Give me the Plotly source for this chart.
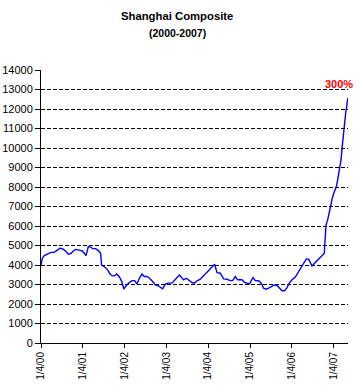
import pandas as pd
import plotly.graph_objects as go

# Time of each reading, in years after 4 Jan 2000
years_elapsed = [
    0.000, 0.031, 0.079, 0.158, 0.239, 0.318, 0.373, 0.455, 0.510, 0.574,
    0.653, 0.718, 0.773, 0.828, 0.909, 0.988, 1.036, 1.077, 1.132, 1.187,
    1.234, 1.306, 1.371, 1.426, 1.450, 1.514, 1.593, 1.651, 1.706, 1.754,
    1.809, 1.873, 1.933, 1.981, 2.024, 2.096, 2.177, 2.239, 2.297, 2.352,
    2.416, 2.471, 2.536, 2.598, 2.670, 2.734, 2.789, 2.854, 2.909, 2.974,
    3.038, 3.134, 3.196, 3.254, 3.316, 3.373, 3.411, 3.476, 3.531, 3.612,
    3.667, 3.732, 3.811, 3.890, 3.971, 4.033, 4.091, 4.153, 4.211, 4.289,
    4.368, 4.450, 4.529, 4.584, 4.648, 4.703, 4.809, 4.871, 4.928, 4.990,
    5.072, 5.127, 5.206, 5.270, 5.325, 5.383, 5.445, 5.510, 5.581, 5.646,
    5.701, 5.766, 5.828, 5.885, 5.940, 6.005, 6.084, 6.163, 6.244, 6.299,
    6.347, 6.402, 6.443, 6.483, 6.545, 6.603, 6.682, 6.746, 6.778, 6.785,
    6.801, 6.818, 6.856, 6.897, 6.938, 6.976, 7.024, 7.065, 7.096, 7.120,
    7.144, 7.177, 7.201, 7.225, 7.256, 7.287, 7.321, 7.344,
]

index_values = [
    3970, 4350, 4480, 4550, 4650, 4650, 4740, 4860, 4840, 4740,
    4550, 4600, 4720, 4800, 4760, 4720, 4600, 4480, 4940, 4920,
    4840, 4840, 4740, 4600, 4000, 3920, 3750, 3540, 3440, 3440,
    3540, 3400, 3150, 2770, 2900, 3070, 3200, 3200, 3020, 3320,
    3530, 3410, 3410, 3320, 3150, 2980, 2950, 2860, 2780, 3020,
    3070, 3070, 3240, 3360, 3490, 3320, 3240, 3320, 3240, 3100,
    3070, 3190, 3270, 3440, 3630, 3780, 3920, 4040, 3610, 3580,
    3290, 3270, 3200, 3200, 3410, 3240, 3240, 3100, 3070, 3030,
    3360, 3200, 3190, 3070, 2810, 2760, 2810, 2900, 2980, 2950,
    2840, 2680, 2680, 2840, 3070, 3240, 3380, 3660, 4000, 4210,
    4310, 4300, 4090, 3950, 4090, 4210, 4400, 4550, 4600, 4940,
    5450, 6050, 6300, 6730, 7160, 7500, 7800, 8010, 8350, 8650,
    8950, 9400, 9970, 10570, 11080, 11760, 12280, 12580,
]

tick_dates = ["2000-01-04", "2001-01-04", "2002-01-04", "2003-01-04",
              "2004-01-04", "2005-01-04", "2006-01-04", "2007-01-04"]
tick_labels = ["1/4/00", "1/4/01", "1/4/02", "1/4/03",
               "1/4/04", "1/4/05", "1/4/06", "1/4/07"]

y_ticks = list(range(0, 14001, 1000))
y_tick_labels = [str(v) for v in y_ticks]

title_line1 = "Shanghai Composite"
title_line2 = "(2000-2007)"
gain_label = "300%"
gain_label_level = 13270

start = pd.Timestamp("2000-01-04")
dates = [start + pd.to_timedelta(t * 365.25, unit="D") for t in years_elapsed]

FONT = "Liberation Sans, Arial, sans-serif"

fig = go.Figure()
fig.add_trace(go.Scatter(
    x=dates, y=index_values, mode="lines",
    line=dict(color="#0000FF", width=1.4),
    hoverinfo="skip", showlegend=False,
))

fig.update_layout(
    width=360, height=388,
    margin=dict(l=41, r=12, t=70, b=45, autoexpand=False),
    paper_bgcolor="white", plot_bgcolor="white",
    font=dict(family=FONT, color="black", size=11),
    showlegend=False,
    xaxis=dict(
        type="date",
        range=[dates[0], dates[-1]],
        tickvals=tick_dates, ticktext=tick_labels,
        tickangle=-90,
        tickfont=dict(family=FONT, size=10, color="black"),
        ticks="outside", ticklen=4, tickcolor="black", tickwidth=1,
        showline=True, linecolor="black", linewidth=1,
        showgrid=False, zeroline=False, automargin=False,
    ),
    yaxis=dict(
        range=[0, 14000],
        tickvals=y_ticks, ticktext=y_tick_labels,
        tickfont=dict(family=FONT, size=11, color="black"),
        ticks="outside", ticklen=5, tickcolor="black", tickwidth=1,
        showline=True, linecolor="black", linewidth=1,
        showgrid=True, gridcolor="black", gridwidth=1, griddash="4px,2px",
        zeroline=False, automargin=False,
    ),
    annotations=[
        dict(text="<b>" + title_line1 + "</b>", xref="paper", yref="paper",
             x=0.443, y=1.198, xanchor="center", yanchor="middle",
             showarrow=False, font=dict(family=FONT, size=11.3, color="black")),
        dict(text="<b>" + title_line2 + "</b>", xref="paper", yref="paper",
             x=0.443, y=1.136, xanchor="center", yanchor="middle",
             showarrow=False, font=dict(family=FONT, size=10.5, color="black")),
        dict(text="<b>" + gain_label + "</b>", xref="paper", yref="y",
             x=0.971, y=gain_label_level, xanchor="center", yanchor="middle",
             showarrow=False, font=dict(family=FONT, size=11, color="#FF0000")),
    ],
)

# Remove the browser's default 8px body margin so the figure sits at the page corner
fig.write_html("out.html", config={"displayModeBar": False},
               post_script="document.body.style.margin='0px';")
